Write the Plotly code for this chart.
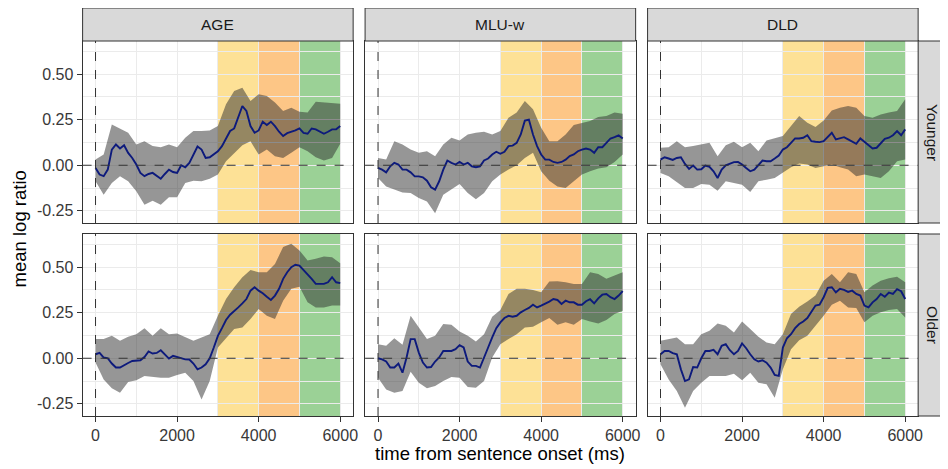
import plotly.graph_objects as go

# sample times (ms) for the mean curve and the ribbon
TIME = list(range(0, 6001, 100))
TIME_RIBBON = list(range(0, 6001, 200))

MEASURES = ['AGE', 'MLU-w', 'DLD']
GROUPS = ['Younger', 'Older']

X_TICKS = [0, 2000, 4000, 6000]
Y_TICKS = [-0.25, 0.0, 0.25, 0.50]
Y_TICK_TEXT = ['-0.25', '0.00', '0.25', '0.50']

# analysis windows (ms)
WINDOWS = [(3000, 4000), (4000, 5000), (5000, 6000)]

# ---- Younger ----
AGE_YOUNGER_MEAN = [-0.015, -0.051, -0.06, -0.024, 0.086, 0.114, 0.092, 0.11, 0.068, 0.04,
                    0.004, -0.042, -0.06, -0.048, -0.042, -0.06, -0.074, -0.048, -0.024, -0.037,
                    -0.042, 0.0, -0.011, 0.013, 0.059, 0.103, 0.086, 0.04, 0.044, 0.062,
                    0.077, 0.105, 0.147, 0.188, 0.202, 0.27, 0.325, 0.298, 0.215, 0.178,
                    0.191, 0.239, 0.221, 0.239, 0.215, 0.184, 0.16, 0.176, 0.182, 0.191,
                    0.202, 0.178, 0.173, 0.202, 0.197, 0.184, 0.173, 0.184, 0.197, 0.197, 0.215]
AGE_YOUNGER_HI = [0.031, 0.059, 0.224, 0.202, 0.178, 0.114, 0.132, 0.105, 0.099, 0.114, 0.099,
                  0.151, 0.188, 0.188, 0.191, 0.215, 0.335, 0.408, 0.426, 0.353, 0.39, 0.38,
                  0.344, 0.298, 0.316, 0.294, 0.289, 0.349, 0.344, 0.342, 0.338]
AGE_YOUNGER_LO = [-0.088, -0.162, -0.097, -0.061, -0.088, -0.143, -0.217, -0.195, -0.217, -0.176,
                  -0.176, -0.097, -0.085, -0.088, -0.074, -0.051, 0.022, 0.068, 0.11, 0.132,
                  0.059, 0.086, 0.05, 0.04, 0.068, 0.099, 0.077, 0.044, 0.026, 0.04, 0.118]

MLU_YOUNGER_MEAN = [-0.015, -0.024, -0.039, -0.006, 0.013, 0.004, -0.024, -0.024, -0.039, -0.061,
                    -0.061, -0.066, -0.085, -0.121, -0.134, -0.088, -0.024, 0.026, 0.013, 0.004,
                    0.018, 0.004, 0.013, -0.006, -0.011, -0.006, 0.026, 0.037, 0.059, 0.074,
                    0.063, 0.074, 0.105, 0.108, 0.123, 0.169, 0.245, 0.25, 0.169, 0.105,
                    0.059, 0.031, 0.031, 0.018, 0.013, 0.018, 0.031, 0.05, 0.059, 0.077,
                    0.086, 0.092, 0.086, 0.068, 0.099, 0.099, 0.123, 0.147, 0.154, 0.164, 0.147]
MLU_YOUNGER_HI = [0.04, 0.031, 0.132, 0.114, 0.086, 0.068, 0.077, 0.05, 0.114, 0.151, 0.136,
                  0.169, 0.178, 0.184, 0.169, 0.188, 0.261, 0.289, 0.353, 0.307, 0.206, 0.132,
                  0.132, 0.169, 0.221, 0.233, 0.243, 0.265, 0.27, 0.289, 0.283]
MLU_YOUNGER_LO = [-0.07, -0.116, -0.131, -0.149, -0.153, -0.18, -0.199, -0.263, -0.162, -0.134,
                  -0.103, -0.153, -0.186, -0.153, -0.088, -0.051, -0.024, 0.0, 0.04, 0.068,
                  -0.033, -0.085, -0.116, -0.125, -0.088, -0.051, -0.033, -0.018, -0.011, 0.018, 0.059]

DLD_YOUNGER_MEAN = [0.031, 0.044, 0.037, 0.029, 0.04, 0.044, 0.007, -0.02, -0.002, -0.024,
                    -0.022, -0.002, -0.009, -0.033, -0.07, -0.024, 0.0, 0.007, 0.017, 0.018,
                    0.004, -0.015, -0.033, -0.024, 0.0, 0.026, 0.022, 0.022, 0.037, 0.053,
                    0.086, 0.099, 0.123, 0.147, 0.147, 0.151, 0.165, 0.132, 0.129, 0.127,
                    0.132, 0.154, 0.178, 0.142, 0.147, 0.154, 0.142, 0.129, 0.118, 0.147,
                    0.129, 0.11, 0.092, 0.096, 0.123, 0.145, 0.151, 0.165, 0.188, 0.165, 0.197]
DLD_YOUNGER_HI = [0.096, 0.099, 0.132, 0.099, 0.105, 0.114, 0.123, 0.05, 0.11, 0.129, 0.099,
                  0.123, 0.077, 0.136, 0.147, 0.16, 0.215, 0.27, 0.233, 0.21, 0.246, 0.301,
                  0.316, 0.325, 0.316, 0.27, 0.261, 0.279, 0.289, 0.298, 0.362]
DLD_YOUNGER_LO = [-0.042, -0.061, -0.094, -0.125, -0.125, -0.103, -0.107, -0.14, -0.088, -0.097,
                  -0.107, -0.147, -0.088, -0.079, -0.07, -0.042, -0.011, 0.009, 0.004, -0.015,
                  -0.006, 0.004, -0.011, -0.024, -0.061, -0.051, -0.061, -0.07, -0.033, 0.022, 0.031]

# ---- Older ----
AGE_OLDER_MEAN = [0.022, 0.029, 0.004, 0.0, -0.029, -0.051, -0.051, -0.037, -0.026, -0.015,
                  -0.011, -0.011, 0.007, 0.037, 0.026, 0.029, 0.044, 0.018, -0.002, 0.013,
                  0.007, 0.0, -0.006, -0.007, -0.029, -0.061, -0.051, -0.033, 0.0, 0.059,
                  0.123, 0.165, 0.21, 0.239, 0.257, 0.279, 0.301, 0.325, 0.371, 0.39,
                  0.371, 0.357, 0.338, 0.32, 0.344, 0.381, 0.436, 0.472, 0.5, 0.513,
                  0.509, 0.485, 0.463, 0.436, 0.408, 0.408, 0.408, 0.417, 0.445, 0.417, 0.412]
AGE_OLDER_HI = [0.105, 0.105, 0.123, 0.096, 0.118, 0.132, 0.165, 0.123, 0.165, 0.132, 0.136,
                0.118, 0.096, 0.114, 0.132, 0.233, 0.325, 0.39, 0.445, 0.485, 0.472, 0.472,
                0.518, 0.61, 0.629, 0.592, 0.537, 0.546, 0.559, 0.555, 0.522]
AGE_OLDER_LO = [-0.024, -0.116, -0.165, -0.189, -0.131, -0.121, -0.097, -0.103, -0.107, -0.107,
                -0.092, -0.079, -0.125, -0.226, -0.125, 0.059, 0.11, 0.16, 0.169, 0.215,
                0.27, 0.233, 0.215, 0.316, 0.381, 0.393, 0.307, 0.279, 0.279, 0.289, 0.289]

MLU_OLDER_MEAN = [0.0, -0.006, -0.018, -0.051, -0.051, -0.029, -0.079, 0.004, 0.105, 0.105,
                  0.031, -0.024, -0.051, -0.048, -0.018, 0.004, 0.04, 0.04, 0.04, 0.05,
                  0.072, 0.059, -0.018, -0.042, -0.042, -0.051, 0.0, 0.059, 0.114, 0.165,
                  0.197, 0.221, 0.233, 0.228, 0.233, 0.252, 0.265, 0.276, 0.294, 0.279,
                  0.289, 0.298, 0.311, 0.325, 0.32, 0.298, 0.316, 0.307, 0.307, 0.294,
                  0.294, 0.313, 0.324, 0.301, 0.329, 0.349, 0.353, 0.335, 0.325, 0.344, 0.368]
MLU_OLDER_HI = [0.077, 0.068, 0.11, 0.074, 0.233, 0.169, 0.105, 0.123, 0.188, 0.184, 0.147,
                0.123, 0.092, 0.132, 0.228, 0.265, 0.353, 0.381, 0.381, 0.375, 0.362, 0.421,
                0.423, 0.417, 0.408, 0.408, 0.472, 0.463, 0.436, 0.454, 0.472]
MLU_OLDER_LO = [-0.107, -0.171, -0.189, -0.18, -0.074, -0.134, -0.165, -0.153, -0.125, -0.103,
                -0.107, -0.158, -0.162, -0.125, 0.004, 0.077, 0.105, 0.132, 0.169, 0.173,
                0.197, 0.221, 0.184, 0.197, 0.184, 0.215, 0.202, 0.191, 0.21, 0.243, 0.261]

DLD_OLDER_MEAN = [0.022, 0.04, 0.04, 0.028, 0.022, -0.061, -0.125, -0.116, -0.048, -0.051,
                  0.0, 0.04, 0.04, 0.046, 0.022, 0.068, 0.077, 0.044, 0.022, 0.04,
                  0.081, 0.055, 0.022, -0.006, -0.018, -0.011, -0.024, -0.051, -0.092, -0.097,
                  0.059, 0.11, 0.132, 0.165, 0.188, 0.202, 0.221, 0.257, 0.289, 0.294,
                  0.335, 0.386, 0.39, 0.362, 0.381, 0.375, 0.364, 0.371, 0.353, 0.344,
                  0.289, 0.279, 0.307, 0.325, 0.353, 0.338, 0.36, 0.353, 0.379, 0.368, 0.325]
DLD_OLDER_HI = [0.096, 0.105, 0.114, 0.077, 0.077, 0.132, 0.151, 0.191, 0.178, 0.142, 0.202,
                0.16, 0.118, 0.086, 0.077, 0.132, 0.243, 0.283, 0.311, 0.344, 0.426, 0.463,
                0.417, 0.472, 0.463, 0.362, 0.399, 0.426, 0.439, 0.447, 0.417]
DLD_OLDER_LO = [-0.033, -0.116, -0.18, -0.272, -0.18, -0.134, -0.097, -0.097, -0.097, -0.085,
                -0.121, -0.079, -0.134, -0.143, -0.217, -0.061, 0.05, 0.099, 0.123, 0.178,
                0.233, 0.294, 0.316, 0.279, 0.276, 0.197, 0.233, 0.252, 0.265, 0.27, 0.224]

PANELS = [
    [(AGE_YOUNGER_MEAN, AGE_YOUNGER_LO, AGE_YOUNGER_HI),
     (MLU_YOUNGER_MEAN, MLU_YOUNGER_LO, MLU_YOUNGER_HI),
     (DLD_YOUNGER_MEAN, DLD_YOUNGER_LO, DLD_YOUNGER_HI)],
    [(AGE_OLDER_MEAN, AGE_OLDER_LO, AGE_OLDER_HI),
     (MLU_OLDER_MEAN, MLU_OLDER_LO, MLU_OLDER_HI),
     (DLD_OLDER_MEAN, DLD_OLDER_LO, DLD_OLDER_HI)],
]

# layout in page pixels; the html body adds an 8px margin, so the figure is shrunk by it
OFF = 8
W, H = 948 - OFF, 469 - OFF
PANEL_LEFT = [83, 367, 651]
PANEL_W = 272
ROW_TOP = [41, 234]
PANEL_H = 182
STRIP_TOP = 8
FONT = 'Liberation Sans, Arial, sans-serif'
WINDOW_COLORS = ['#FDE196', '#FDC686', '#9BD196']
RIBBON = 'rgba(45,45,45,0.5)'
LINE = '#0D1A7C'
BORDER = '#333333'
TICK_FONT = dict(family=FONT, size=16, color='#383838')


def px_x(p):
    return (p - OFF) / W


def px_y(p):
    return 1 - (p - OFF) / H


fig = go.Figure()
shapes = []
annotations = []

for r in range(2):
    for c in range(3):
        n = r * 3 + c + 1
        xa = 'x' if n == 1 else f'x{n}'
        ya = 'y' if n == 1 else f'y{n}'
        mean, lo, hi = PANELS[r][c]

        # confidence ribbon
        fig.add_trace(go.Scatter(
            x=TIME_RIBBON + TIME_RIBBON[::-1], y=hi + lo[::-1],
            fill='toself', fillcolor=RIBBON, line=dict(width=0),
            mode='lines', hoverinfo='skip', showlegend=False, xaxis=xa, yaxis=ya))
        # mean curve
        fig.add_trace(go.Scatter(
            x=TIME, y=mean, mode='lines', line=dict(color=LINE, width=1.9),
            showlegend=False, xaxis=xa, yaxis=ya))

        for (a, b), col in zip(WINDOWS, WINDOW_COLORS):
            shapes.append(dict(type='rect', xref=xa, yref=f'{ya} domain', x0=a, x1=b, y0=0, y1=1,
                               fillcolor=col, line=dict(width=0), layer='below'))
        shapes.append(dict(type='line', xref=xa, yref=f'{ya} domain', x0=0, x1=0, y0=0, y1=1,
                           line=dict(color=BORDER, width=1, dash='dash')))
        shapes.append(dict(type='line', xref=f'{xa} domain', yref=ya, x0=0, x1=1, y0=0, y1=0,
                           line=dict(color=BORDER, width=1, dash='dash')))

        x_dom = [px_x(PANEL_LEFT[c]), px_x(PANEL_LEFT[c] + PANEL_W)]
        y_dom = [px_y(ROW_TOP[r] + PANEL_H), px_y(ROW_TOP[r])]
        bottom = r == 1
        left = c == 0
        fig.layout[('xaxis' if n == 1 else f'xaxis{n}')] = dict(
            domain=x_dom, anchor=ya, range=[-317, 6317],
            tickmode='array', tickvals=X_TICKS, ticktext=[str(v) for v in X_TICKS],
            showticklabels=bottom, ticks='outside' if bottom else '', ticklen=5,
            tickcolor=BORDER, tickfont=TICK_FONT,
            showline=True, mirror=True, linecolor=BORDER, linewidth=1,
            showgrid=True, gridcolor='#EBEBEB', gridwidth=1, zeroline=False,
            minor=dict(tickmode='linear', tick0=1000, dtick=2000, showgrid=True,
                       gridcolor='#EBEBEB', gridwidth=0.6, ticks=''))
        fig.layout[('yaxis' if n == 1 else f'yaxis{n}')] = dict(
            domain=y_dom, anchor=xa, range=[-0.317, 0.682],
            tickmode='array', tickvals=Y_TICKS, ticktext=Y_TICK_TEXT,
            showticklabels=left, ticks='outside' if left else '', ticklen=5,
            tickcolor=BORDER, tickfont=TICK_FONT,
            showline=True, mirror=True, linecolor=BORDER, linewidth=1,
            showgrid=True, gridcolor='#EBEBEB', gridwidth=1, zeroline=False,
            minor=dict(tickmode='linear', tick0=-0.125, dtick=0.25, showgrid=True,
                       gridcolor='#EBEBEB', gridwidth=0.6, ticks=''))

# facet strips: measures on top
for c, name in enumerate(MEASURES):
    shapes.append(dict(type='rect', xref='paper', yref='paper',
                       x0=px_x(PANEL_LEFT[c]), x1=px_x(PANEL_LEFT[c] + PANEL_W),
                       y0=px_y(ROW_TOP[0]), y1=px_y(STRIP_TOP),
                       fillcolor='#D9D9D9', line=dict(color=BORDER, width=1)))
    annotations.append(dict(text=name, xref='paper', yref='paper',
                            x=px_x(PANEL_LEFT[c] + PANEL_W / 2), y=px_y((STRIP_TOP + ROW_TOP[0]) / 2),
                            xanchor='center', yanchor='middle',
                            showarrow=False, font=dict(family=FONT, size=15.5, color='#1A1A1A')))

# facet strips: age groups on the right
strip_left = PANEL_LEFT[2] + PANEL_W
for r, name in enumerate(GROUPS):
    shapes.append(dict(type='rect', xref='paper', yref='paper',
                       x0=px_x(strip_left), x1=px_x(strip_left + 34),
                       y0=px_y(ROW_TOP[r] + PANEL_H), y1=px_y(ROW_TOP[r]),
                       fillcolor='#D9D9D9', line=dict(color=BORDER, width=1)))
    annotations.append(dict(text=name, xref='paper', yref='paper', textangle=90,
                            x=px_x(strip_left + 15), y=px_y(ROW_TOP[r] + PANEL_H / 2),
                            xanchor='center', yanchor='middle',
                            showarrow=False, font=dict(family=FONT, size=15.5, color='#1A1A1A')))

# axis titles
annotations.append(dict(text='time from sentence onset (ms)', xref='paper', yref='paper',
                        x=px_x((PANEL_LEFT[0] + PANEL_LEFT[2] + PANEL_W) / 2), y=px_y(453),
                        xanchor='center', yanchor='middle',
                        showarrow=False, font=dict(family=FONT, size=18.5, color='black')))
annotations.append(dict(text='mean log ratio', xref='paper', yref='paper', textangle=-90,
                        x=px_x(20), y=px_y((ROW_TOP[0] + ROW_TOP[1] + PANEL_H) / 2),
                        xanchor='center', yanchor='middle',
                        showarrow=False, font=dict(family=FONT, size=18.5, color='black')))

fig.update_layout(
    width=W, height=H, autosize=False,
    margin=dict(l=0, r=0, t=0, b=0),
    paper_bgcolor='white', plot_bgcolor='white',
    shapes=shapes, annotations=annotations,
    showlegend=False,
)

fig.write_html("out.html")
